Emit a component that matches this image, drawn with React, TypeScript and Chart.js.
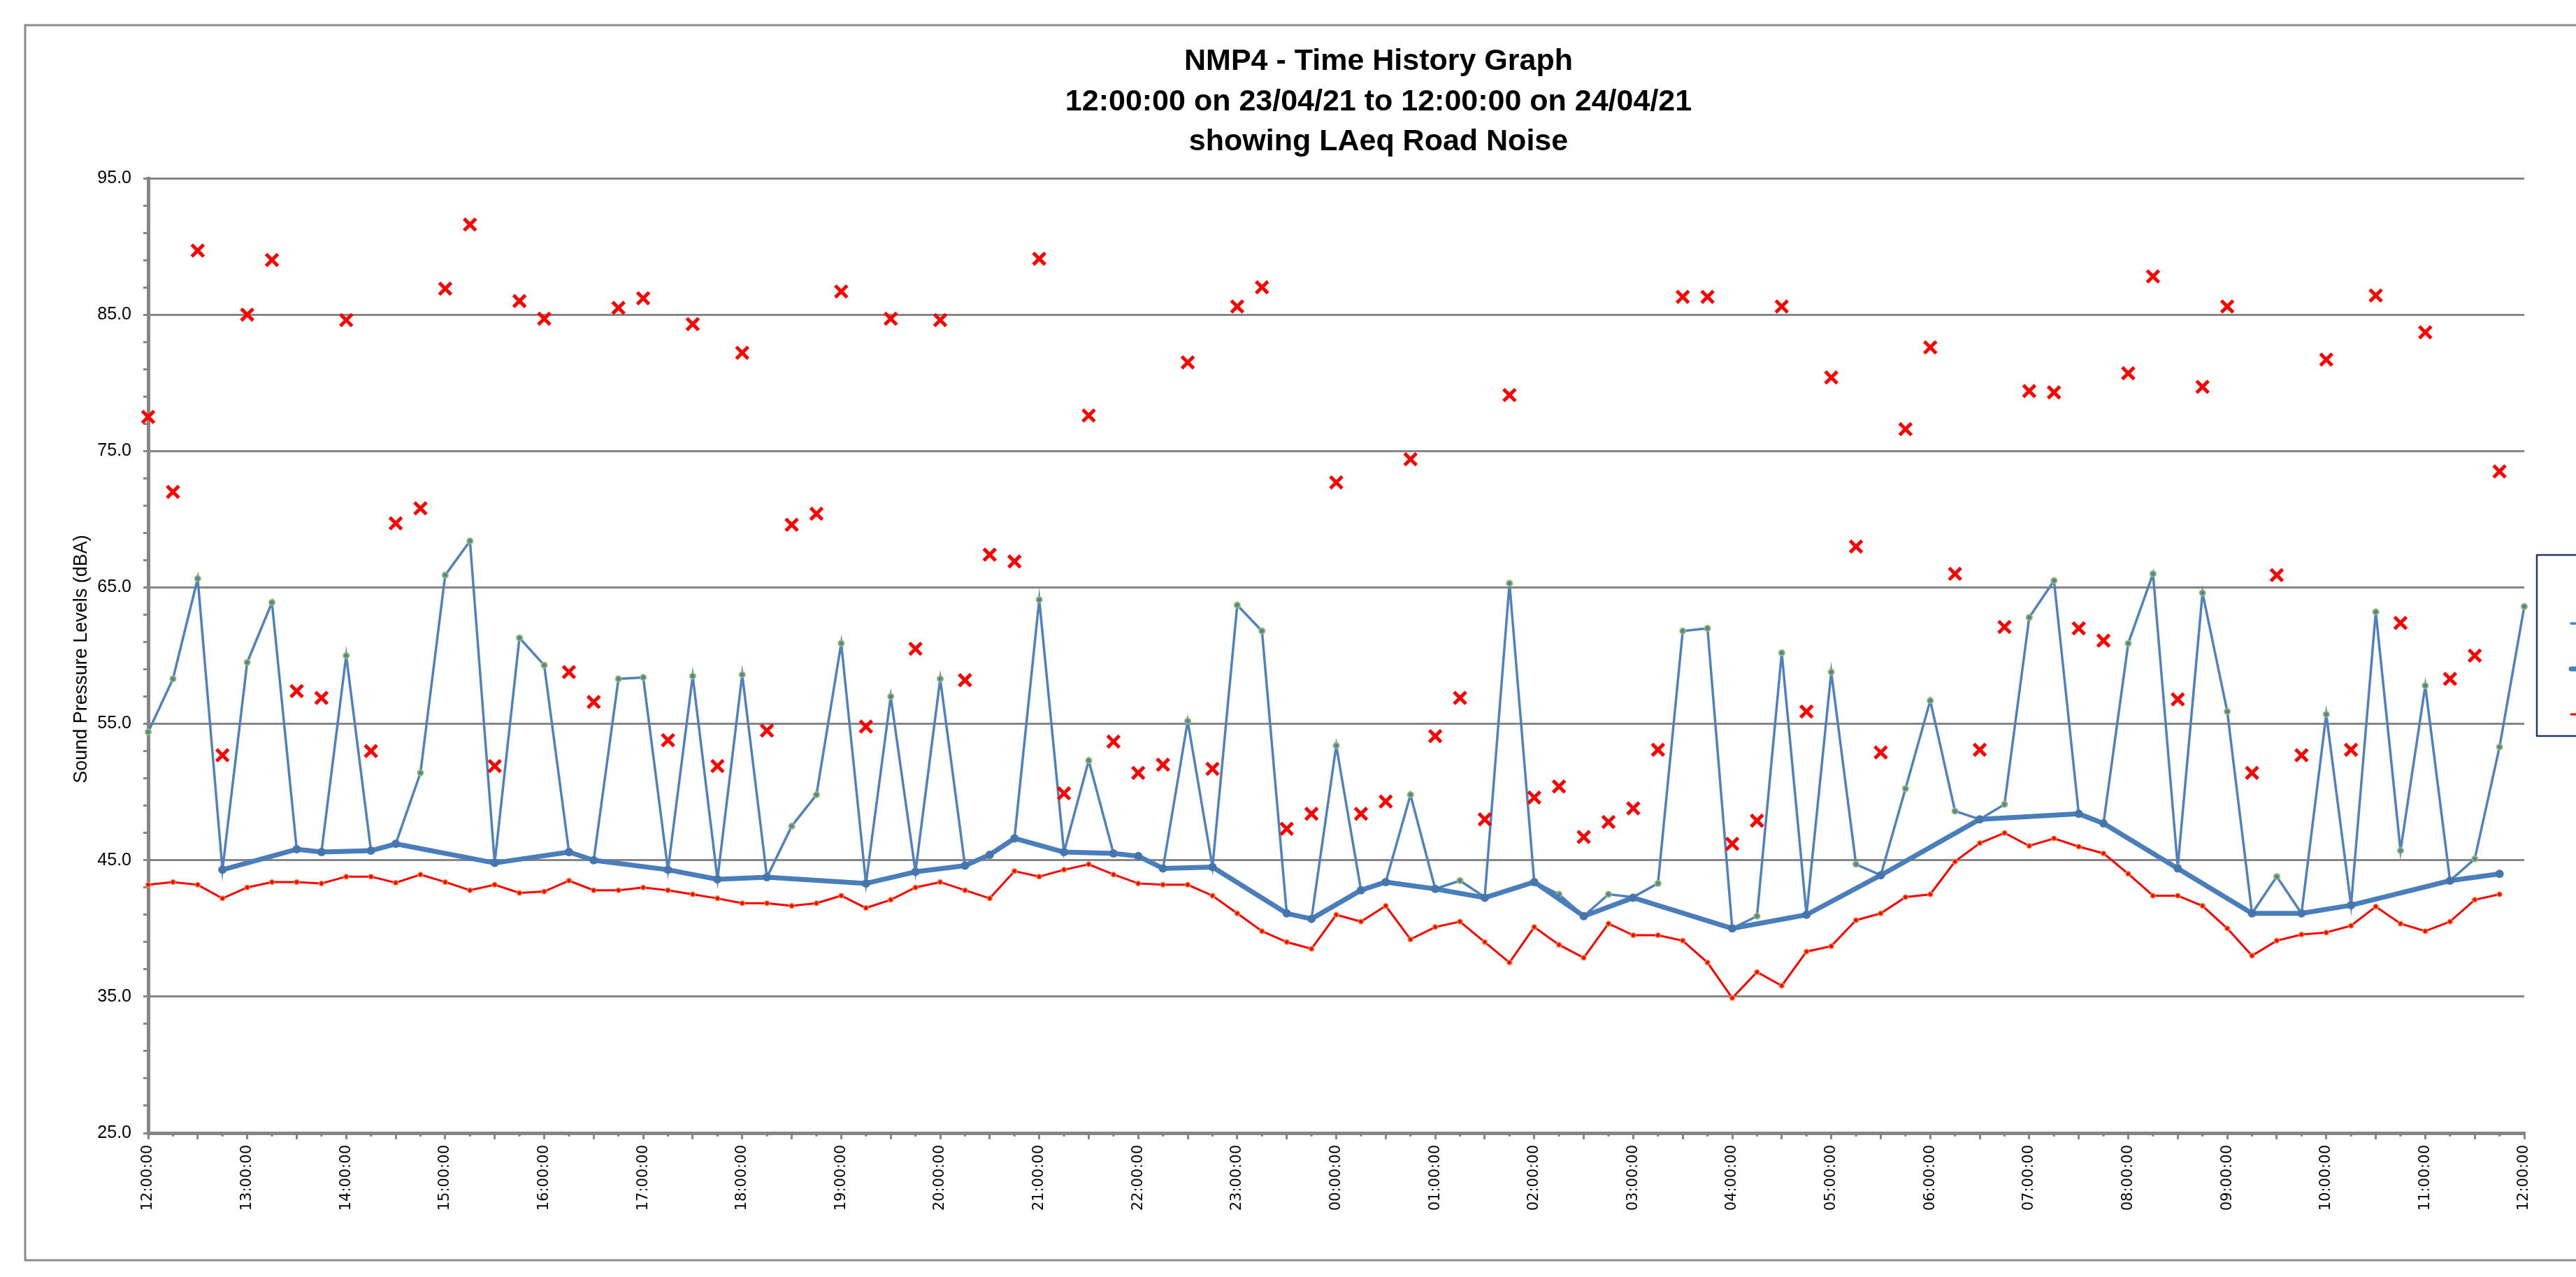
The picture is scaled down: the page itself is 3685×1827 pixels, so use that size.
import React, { useEffect, useRef } from "react";
import { Chart, registerables } from "chart.js";

Chart.register(...registerables);

const TITLE_LINES = [
  "NMP4 - Time History Graph",
  "12:00:00 on 23/04/21 to 12:00:00 on 24/04/21",
  "showing LAeq Road Noise",
];
const Y_TITLE = "Sound Pressure Levels (dBA)";

const HOUR_LABELS = [
  "12:00:00", "13:00:00", "14:00:00", "15:00:00", "16:00:00", "17:00:00", "18:00:00",
  "19:00:00", "20:00:00", "21:00:00", "22:00:00", "23:00:00", "00:00:00", "01:00:00",
  "02:00:00", "03:00:00", "04:00:00", "05:00:00", "06:00:00", "07:00:00", "08:00:00",
  "09:00:00", "10:00:00", "11:00:00", "12:00:00",
];
const QUARTERS = ["00", "15", "30", "45"];

// 15-minute categories, 12:00 on 23/04/21 to 12:00 on 24/04/21
const TIMES: string[] = [];
HOUR_LABELS.forEach((h, hi) => {
  QUARTERS.forEach((q, qi) => {
    if (hi < HOUR_LABELS.length - 1 || qi === 0) TIMES.push(h.slice(0, 3) + q + ":00");
  });
});

const SERIES_NAMES = ["LAmax", "LAeq", "LAeq Road Noise", "LA90"];

const LAMAX = [
  77.5, 72.0, 89.7, 52.7, 85.0, 89.0, 57.4, 56.9, 84.6, 53.0,
  69.7, 70.8, 86.9, 91.6, 51.9, 86.0, 84.7, 58.8, 56.6, 85.5,
  86.2, 53.8, 84.3, 51.9, 82.2, 54.5, 69.6, 70.4, 86.7, 54.8,
  84.7, 60.5, 84.6, 58.2, 67.4, 66.9, 89.1, 49.9, 77.6, 53.7,
  51.4, 52.0, 81.5, 51.7, 85.6, 87.0, 47.3, 48.4, 72.7, 48.4,
  49.3, 74.4, 54.1, 56.9, 48.0, 79.1, 49.6, 50.4, 46.7, 47.8,
  48.8, 53.1, 86.3, 86.3, 46.2, 47.9, 85.6, 55.9, 80.4, 68.0,
  52.9, 76.6, 82.6, 66.0, 53.1, 62.1, 79.4, 79.3, 62.0, 61.1,
  80.7, 87.8, 56.8, 79.7, 85.6, 51.4, 65.9, 52.7, 81.7, 53.1,
  86.4, 62.4, 83.7, 58.3, 60.0, 73.5, null,
];

const LAEQ = [
  54.4, 58.3, 65.65, 44.3, 59.5, 63.9, 45.8, 45.6, 60.0, 45.7, 46.2, 51.4, 65.9, 68.4, 44.8, 61.3, 59.3,
  45.6, 45.0, 58.3, 58.4, 44.3, 58.5, 43.6, 58.6, 43.75, 47.5, 49.8, 60.9, 43.3, 57.0, 44.15, 58.3,
  44.6, 45.4, 46.6, 64.1, 45.6, 52.3, 45.5, 45.3, 44.4, 55.2, 44.5, 63.7, 61.8, 41.1, 40.7, 53.4,
  42.8, 43.4, 49.8, 42.9, 43.5, 42.3, 65.3, 43.4, 42.5, 40.9, 42.5, 42.3, 43.3, 61.8, 62.0, 40.0,
  40.9, 60.2, 41.0, 58.8, 44.7, 43.9, 50.25, 56.7, 48.6, 48.0, 49.1, 62.8, 65.5, 48.4, 47.7, 60.9,
  66.0, 44.5, 64.6, 55.9, 41.1, 43.8, 41.1, 55.7, 41.7, 63.2, 45.7, 57.8, 43.5, 45.1, 53.3, 63.6,
];

const LAEQ_ROAD = [
  null, null, null, 44.3, null, null, 45.8, 45.6, null, 45.7,
  46.2, null, null, null, 44.8, null, null, 45.6, 45.0, null,
  null, 44.3, null, 43.6, null, 43.75, null, null, null, 43.3,
  null, 44.15, null, 44.6, 45.4, 46.6, null, 45.6, null, 45.5,
  45.3, 44.4, null, 44.5, null, null, 41.1, 40.7, null, 42.8,
  43.4, null, 42.9, null, 42.25, null, 43.4, null, 40.9, null,
  42.25, null, null, null, 40.0, null, null, 41.0, null, null,
  43.9, null, null, null, 48.0, null, null, null, 48.4, 47.7,
  null, null, 44.4, null, null, 41.1, null, 41.1, null, 41.7,
  null, null, null, 43.5, null, 44.0, null,
];

const LA90 = [
  43.2, 43.4, 43.2, 42.2, 43.0, 43.4, 43.4, 43.3, 43.8, 43.8, 43.35, 43.95, 43.4, 42.8, 43.2, 42.6, 42.7,
  43.5, 42.8, 42.8, 43.0, 42.8, 42.5, 42.2, 41.85, 41.85, 41.65, 41.85, 42.4, 41.5, 42.1, 43.0, 43.4,
  42.8, 42.2, 44.2, 43.8, 44.3, 44.7, 43.95, 43.3, 43.2, 43.2, 42.4, 41.1, 39.8, 39.0, 38.5, 41.0,
  40.5, 41.65, 39.2, 40.1, 40.5, 39.0, 37.5, 40.1, 38.8, 37.85, 40.35, 39.5, 39.5, 39.1, 37.5, 34.9,
  36.8, 35.8, 38.3, 38.7, 40.6, 41.1, 42.3, 42.5, 44.9, 46.25, 47.0, 46.05, 46.6, 46.0, 45.5, 44.0,
  42.4, 42.4, 41.65, 40.0, 38.0, 39.1, 39.55, 39.7, 40.2, 41.6, 40.35, 39.8, 40.5, 42.1, 42.5, null,
];

const Y_MIN = 25;
const Y_MAX = 95;
const Y_MINOR_STEP = 2;
const Y_MAJOR_STEP = 10;

const W = 3685;
const H = 1827;
const GRID = "#868686";

const decoPlugin = {
  id: "deco",
  beforeDraw(chart: any) {
    const { ctx, width, height } = chart;
    ctx.save();
    ctx.fillStyle = "#ffffff";
    ctx.fillRect(0, 0, width, height);
    ctx.restore();
  },
  afterDraw(chart: any) {
    const ctx = chart.ctx as CanvasRenderingContext2D;
    ctx.save();
    // outer frame
    ctx.strokeStyle = "#8c8c8c";
    ctx.lineWidth = 3;
    ctx.strokeRect(36, 36, 3720, 1767);

    // title
    ctx.fillStyle = "#000";
    ctx.textAlign = "center";
    ctx.textBaseline = "alphabetic";
    ctx.font = 'bold 43px "Liberation Sans", Arial, sans-serif';
    TITLE_LINES.forEach((t, i) => ctx.fillText(t, 1972, 100 + i * 57.5));

    // y axis title
    ctx.save();
    ctx.translate(124, 943);
    ctx.rotate(-Math.PI / 2);
    ctx.font = '27px "Liberation Sans", Arial, sans-serif';
    ctx.fillText(Y_TITLE, 0, 0);
    ctx.restore();

    // minor x tick marks
    const xs = chart.scales.x;
    const bottom = chart.chartArea.bottom;
    ctx.strokeStyle = GRID;
    ctx.lineWidth = 3;
    for (let i = 1; i < TIMES.length; i += 2) {
      const x = xs.getPixelForValue(i);
      ctx.beginPath();
      ctx.moveTo(x, bottom);
      ctx.lineTo(x, bottom + 5);
      ctx.stroke();
    }

    // legend (mostly beyond the right edge, as in the original), in series-name order
    const lx = 3629;
    const ly = 794;
    ctx.strokeStyle = "#1f3864";
    ctx.lineWidth = 2.5;
    ctx.strokeRect(lx, ly, 400, 259);
    const ds = chart.data.datasets;
    const rowY = [827, 892, 957, 1022];
    const x0 = 3678;
    const x1 = 3748;
    const xm = (x0 + x1) / 2;
    SERIES_NAMES.forEach((name, i) => {
      const d = ds.find((e: any) => e.label === name);
      if (!d) return;
      const y = rowY[i];
      if (d.showLine !== false) {
        ctx.strokeStyle = d.borderColor;
        ctx.lineWidth = d.borderWidth;
        ctx.lineCap = "round";
        ctx.beginPath();
        ctx.moveTo(x0, y);
        ctx.lineTo(x1, y);
        ctx.stroke();
      } else {
        ctx.strokeStyle = d.pointBorderColor;
        ctx.lineWidth = d.pointBorderWidth;
        const r = d.pointRadius * 0.707;
        ctx.beginPath();
        ctx.moveTo(xm - r, y - r);
        ctx.lineTo(xm + r, y + r);
        ctx.moveTo(xm + r, y - r);
        ctx.lineTo(xm - r, y + r);
        ctx.stroke();
      }
      ctx.fillStyle = "#000";
      ctx.textAlign = "left";
      ctx.textBaseline = "middle";
      ctx.font = '25px "Liberation Sans", Arial, sans-serif';
      ctx.fillText(name, x1 + 12, y);
    });
    ctx.restore();
  },
};

export default function App() {
  const ref = useRef<HTMLCanvasElement | null>(null);

  useEffect(() => {
    if (!ref.current) return;
    const chart = new Chart(ref.current, {
      type: "line",
      data: {
        labels: TIMES,
        datasets: [
          {
            label: SERIES_NAMES[0],
            data: LAMAX,
            showLine: false,
            pointStyle: "crossRot",
            pointRadius: 12,
            pointBorderWidth: 5,
            pointBorderColor: "#ff0000",
            pointBackgroundColor: "#ff0000",
            borderColor: "#ff0000",
            clip: false,
          } as any,
          {
            label: SERIES_NAMES[2],
            data: LAEQ_ROAD,
            spanGaps: true,
            borderColor: "#4a7ebb",
            borderWidth: 7,
            borderCapStyle: "round",
            borderJoinStyle: "round",
            pointRadius: 6,
            pointBorderWidth: 0,
            pointBackgroundColor: "#4675ad",
            pointBorderColor: "#4675ad",
            clip: false,
          } as any,
          {
            label: SERIES_NAMES[1],
            data: LAEQ,
            borderColor: "#4f81bd",
            borderWidth: 3.5,
            pointRadius: 4,
            pointBorderWidth: 2,
            pointBackgroundColor: "#4f81bd",
            pointBorderColor: "#9bbb59",
            clip: false,
          } as any,
          {
            label: SERIES_NAMES[3],
            data: LA90,
            borderColor: "#ff0000",
            borderWidth: 3,
            pointRadius: 3.5,
            pointBorderWidth: 1.5,
            pointBackgroundColor: "#ff0000",
            pointBorderColor: "#f79646",
            clip: false,
          } as any,
        ],
      },
      options: {
        responsive: false,
        animation: false,
        devicePixelRatio: 1,
        layout: { padding: { left: 0, top: 255, right: 74, bottom: 0 } },
        plugins: {
          legend: { display: false },
          title: { display: false },
          tooltip: { enabled: false },
        },
        elements: { line: { tension: 0 } },
        scales: {
          x: {
            type: "category",
            offset: false,
            afterFit: (s: any) => {
              s.height = H - 1621;
            },
            grid: {
              drawOnChartArea: false,
              tickLength: 9,
              lineWidth: 3,
              tickWidth: 3,
              tickColor: (c: any) => (c.index % 2 === 0 ? GRID : "rgba(0,0,0,0)"),
            },
            border: { color: GRID, width: 5 },
            ticks: {
              autoSkip: false,
              maxRotation: 90,
              minRotation: 90,
              padding: 8,
              color: "#000",
              font: { family: '"DejaVu Sans", sans-serif', size: 21 },
              callback: (_v: any, i: number) => (i % 4 === 0 ? TIMES[i] : ""),
            },
          },
          y: {
            min: Y_MIN,
            max: Y_MAX,
            afterFit: (s: any) => {
              s.width = 212;
            },
            grid: {
              lineWidth: 3,
              tickLength: 7,
              tickWidth: 3,
              color: (c: any) =>
                c.tick && (c.tick.value - Y_MIN) % Y_MAJOR_STEP === 0 ? GRID : "rgba(0,0,0,0)",
              tickColor: GRID,
            },
            border: { color: GRID, width: 5 },
            ticks: {
              stepSize: Y_MINOR_STEP,
              autoSkip: false,
              padding: 17,
              color: "#000",
              font: { family: '"Liberation Sans", Arial, sans-serif', size: 25 },
              callback: (v: any) =>
                (Number(v) - Y_MIN) % Y_MAJOR_STEP === 0 ? Number(v).toFixed(1) : "",
            },
          },
        },
      } as any,
      plugins: [decoPlugin],
    });
    return () => chart.destroy();
  }, []);

  return (
    <div
      style={{
        position: "fixed",
        left: 0,
        top: 0,
        width: W,
        height: H,
        overflow: "hidden",
        background: "#fff",
      }}
    >
      <canvas ref={ref} width={W} height={H} style={{ display: "block", width: W, height: H }} />
    </div>
  );
}
